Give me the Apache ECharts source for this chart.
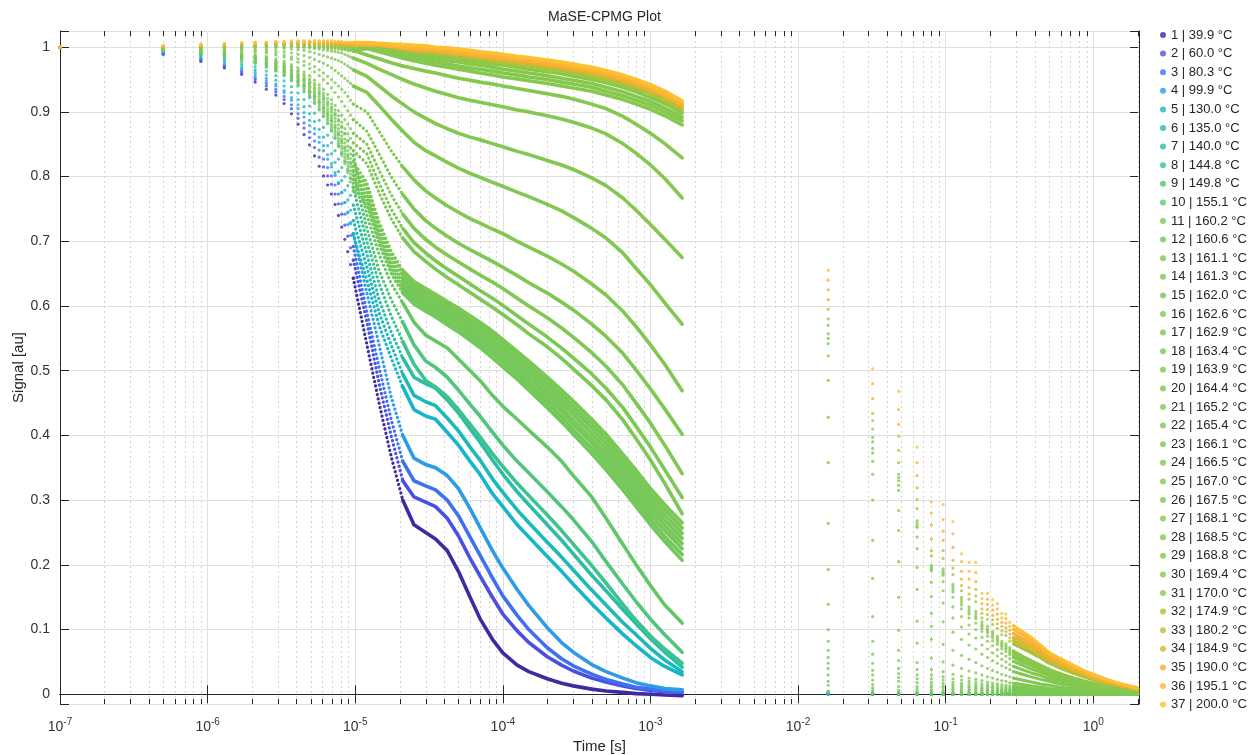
<!DOCTYPE html>
<html><head><meta charset="utf-8">
<script src="https://cdn.jsdelivr.net/npm/echarts@6.0.0/dist/echarts.min.js"></script>
<style>html,body{margin:0;padding:0;background:#fff}#c{width:1258px;height:755px}</style>
</head><body><div id="c"></div>
<script>
// ---------------- DATA ----------------
const TEMPS = [39.9,60.0,80.3,99.9,130.0,135.0,140.0,144.8,149.8,155.1,160.2,160.6,161.1,161.3,162.0,162.6,162.9,163.4,163.9,164.4,165.2,165.4,166.1,166.5,167.0,167.5,168.1,168.5,168.8,169.4,170.0,174.9,180.2,184.9,190.0,195.1,200.0];
const X_TICK_EXP = [-7,-6,-5,-4,-3,-2,-1,0];
// early echo times (microseconds)
const TE_US = [0.1,0.5,0.9,1.3,1.7,2.1,2.5,2.9,3.3,3.7,4.1,4.5,4.9,5.3,5.7,6.1,6.5,6.9,7.3,7.7,8.1,8.5,8.9,9.3,9.7];
// later FID times (s)
const TL = [1.2e-5,1.45e-5,1.75e-5,2.1e-5,2.5e-5,3e-5,3.5e-5,4.2e-5,5e-5,6e-5,7e-5,8.5e-5,1e-4,1.25e-4,1.5e-4,2e-4,2.5e-4,3e-4,4e-4,5e-4,6.5e-4,8e-4,1e-3,1.25e-3,1.64e-3];
// CPMG echo columns (s)
const TC = [0.016,0.032,0.048,0.064,0.080,0.096,0.112,0.128,0.144,0.160,0.176,0.192,0.208,0.224,0.240,0.256,0.272,0.288];
// CPMG tail times (s)
const TR = [0.33,0.38,0.44,0.5,0.6,0.72,0.86,1.0,1.2,1.45,1.7,2.0];

const E01=[1,0.989,0.978,0.968,0.958,0.946,0.935,0.926,0.913,0.897,0.881,0.865,0.849,0.832,0.816,0.801,0.787,0.773,0.757,0.740,0.722,0.703,0.684,0.664,0.643];
const E02=[1,0.990,0.980,0.970,0.961,0.950,0.940,0.931,0.919,0.905,0.890,0.875,0.860,0.845,0.830,0.815,0.801,0.788,0.773,0.758,0.742,0.725,0.708,0.690,0.671];
const E03=[1,0.991,0.981,0.972,0.963,0.953,0.944,0.935,0.924,0.911,0.897,0.883,0.869,0.855,0.841,0.827,0.814,0.801,0.787,0.773,0.758,0.742,0.726,0.709,0.692];
const E04=[1,0.992,0.983,0.974,0.966,0.957,0.948,0.940,0.930,0.918,0.905,0.892,0.879,0.866,0.853,0.840,0.827,0.815,0.802,0.789,0.775,0.760,0.745,0.729,0.712];
const E05=[1,0.993,0.985,0.977,0.969,0.961,0.952,0.943,0.933,0.922,0.911,0.899,0.887,0.874,0.861,0.848,0.834,0.820,0.806,0.791,0.776,0.760,0.744,0.727,0.710];
const E06=[1,0.994,0.987,0.980,0.973,0.965,0.957,0.949,0.940,0.930,0.919,0.908,0.897,0.885,0.873,0.861,0.848,0.835,0.822,0.808,0.794,0.779,0.764,0.748,0.732];
const E07=[1,0.995,0.989,0.983,0.977,0.970,0.963,0.956,0.948,0.939,0.929,0.919,0.909,0.898,0.887,0.876,0.864,0.852,0.840,0.827,0.814,0.800,0.786,0.771,0.756];
const E08=[1,0.996,0.991,0.986,0.981,0.975,0.969,0.963,0.956,0.948,0.940,0.931,0.922,0.913,0.903,0.893,0.882,0.871,0.860,0.848,0.836,0.823,0.810,0.797,0.783];
const E09=[1,0.997,0.993,0.989,0.984,0.979,0.974,0.968,0.962,0.955,0.948,0.940,0.932,0.924,0.915,0.906,0.897,0.887,0.877,0.866,0.855,0.844,0.832,0.820,0.808];
const E10=[1,0.998,0.995,0.992,0.988,0.984,0.980,0.975,0.970,0.964,0.958,0.951,0.944,0.937,0.929,0.921,0.913,0.904,0.895,0.886,0.876,0.866,0.855,0.844,0.833];
const E11=[1,0.995,0.990,0.986,0.981,0.976,0.970,0.964,0.957,0.950,0.942,0.934,0.925,0.915,0.905,0.894,0.883,0.871,0.859,0.846,0.833,0.820,0.806,0.792,0.778];
const E12=[1,0.995,0.991,0.987,0.982,0.977,0.972,0.966,0.959,0.952,0.944,0.936,0.927,0.918,0.908,0.898,0.887,0.875,0.863,0.851,0.838,0.825,0.812,0.798,0.784];
const E13=[1,0.995,0.991,0.987,0.983,0.978,0.973,0.967,0.961,0.954,0.947,0.939,0.930,0.921,0.911,0.901,0.890,0.879,0.867,0.855,0.843,0.830,0.817,0.804,0.790];
const E14=[1,0.996,0.992,0.988,0.984,0.980,0.975,0.969,0.963,0.956,0.949,0.941,0.932,0.923,0.914,0.904,0.893,0.882,0.871,0.859,0.847,0.835,0.822,0.809,0.796];
const E15=[1,0.996,0.992,0.989,0.985,0.981,0.976,0.970,0.964,0.958,0.951,0.943,0.935,0.926,0.917,0.907,0.897,0.886,0.875,0.864,0.852,0.840,0.828,0.815,0.802];
const E16=[1,0.996,0.993,0.990,0.986,0.982,0.977,0.972,0.966,0.960,0.953,0.946,0.938,0.929,0.920,0.911,0.901,0.891,0.880,0.869,0.858,0.846,0.834,0.822,0.809];
const E17=[1,0.996,0.993,0.990,0.987,0.983,0.978,0.973,0.968,0.962,0.955,0.948,0.940,0.932,0.924,0.915,0.905,0.895,0.885,0.874,0.863,0.852,0.840,0.828,0.816];
const E18=[1,0.997,0.994,0.991,0.988,0.984,0.980,0.975,0.970,0.964,0.958,0.951,0.944,0.936,0.928,0.919,0.910,0.900,0.890,0.880,0.869,0.858,0.847,0.835,0.823];
const E19=[1,0.997,0.995,0.992,0.989,0.986,0.982,0.978,0.973,0.968,0.962,0.955,0.948,0.941,0.933,0.925,0.916,0.907,0.898,0.888,0.878,0.867,0.856,0.845,0.840];
const E20=[1,0.997,0.995,0.993,0.990,0.987,0.983,0.979,0.975,0.970,0.964,0.958,0.951,0.944,0.937,0.929,0.921,0.912,0.903,0.894,0.884,0.874,0.866,0.859,0.852];
const E21=[1,0.998,0.996,0.994,0.992,0.989,0.986,0.982,0.978,0.973,0.968,0.962,0.956,0.949,0.942,0.935,0.927,0.919,0.910,0.902,0.895,0.888,0.881,0.874,0.867];
const E22=[1,0.998,0.997,0.996,0.995,0.993,0.991,0.988,0.985,0.981,0.977,0.972,0.967,0.962,0.956,0.950,0.944,0.937,0.930,0.923,0.916,0.909,0.902,0.895,0.888];
const E23=[1,0.999,0.998,0.997,0.996,0.995,0.993,0.991,0.988,0.985,0.982,0.978,0.974,0.970,0.965,0.960,0.955,0.950,0.945,0.940,0.935,0.930,0.924,0.918,0.912];
const E24=[1,0.999,0.999,0.999,0.998,0.997,0.996,0.995,0.993,0.991,0.989,0.987,0.984,0.981,0.978,0.975,0.972,0.968,0.964,0.960,0.956,0.952,0.948,0.944,0.940];
const E25=[1,0.999,1.000,1.000,1.000,1.000,0.999,0.999,0.998,0.997,0.996,0.995,0.993,0.991,0.989,0.987,0.985,0.983,0.981,0.979,0.977,0.974,0.971,0.968,0.965];
const E26=[1,1.000,1.001,1.001,1.002,1.002,1.002,1.002,1.001,1.001,1.000,1.000,0.999,0.998,0.997,0.996,0.995,0.994,0.993,0.992,0.991,0.989,0.987,0.985,0.983];
const E27=[1,1.000,1.001,1.002,1.003,1.003,1.004,1.004,1.004,1.004,1.004,1.003,1.003,1.003,1.002,1.002,1.001,1.001,1.000,1.000,0.999,0.998,0.997,0.996,0.995];
const E28=[1,0.997,0.999,1.000,1.000,1.001,1.001,1.001,1.001,1.001,1.000,1.000,1.000,0.999,0.999,0.999,0.998,0.998,0.997,0.997,0.996,0.996,0.995,0.995,0.994];
const E29=[1,0.998,1.000,1.001,1.002,1.002,1.002,1.002,1.002,1.002,1.002,1.002,1.002,1.001,1.001,1.001,1.001,1.000,1.000,1.000,0.999,0.999,0.999,0.998,0.998];
const E30=[1,0.999,1.001,1.002,1.003,1.003,1.004,1.004,1.004,1.004,1.004,1.004,1.004,1.004,1.004,1.003,1.003,1.003,1.003,1.003,1.002,1.002,1.002,1.001,1.001];
const E31=[1,1.000,1.002,1.003,1.004,1.005,1.005,1.006,1.006,1.006,1.006,1.006,1.006,1.006,1.006,1.006,1.006,1.006,1.006,1.006,1.005,1.005,1.005,1.004,1.004];
const E32=[1,1.000,1.001,1.002,1.003,1.003,1.004,1.004,1.004,1.004,1.004,1.004,1.004,1.004,1.003,1.003,1.003,1.003,1.003,1.002,1.002,1.002,1.002,1.001,1.001];
const E33=[1,1.001,1.002,1.003,1.004,1.004,1.005,1.005,1.005,1.005,1.005,1.005,1.005,1.005,1.005,1.004,1.004,1.004,1.004,1.004,1.003,1.003,1.003,1.003,1.002];
const E34=[1,1.002,1.003,1.005,1.006,1.007,1.007,1.008,1.008,1.008,1.009,1.009,1.009,1.009,1.009,1.009,1.008,1.008,1.008,1.008,1.007,1.007,1.007,1.006,1.006];
const E35=[1,1.001,1.003,1.004,1.005,1.005,1.006,1.006,1.006,1.006,1.006,1.006,1.006,1.006,1.006,1.006,1.006,1.006,1.005,1.005,1.005,1.005,1.004,1.004,1.004];
const E36=[1,1.002,1.004,1.005,1.006,1.006,1.007,1.007,1.008,1.008,1.008,1.008,1.008,1.008,1.008,1.008,1.008,1.007,1.007,1.007,1.007,1.006,1.006,1.006,1.005];
const E37=[1,1.003,1.005,1.006,1.007,1.008,1.008,1.009,1.009,1.010,1.010,1.010,1.010,1.010,1.010,1.010,1.010,1.010,1.009,1.009,1.009,1.008,1.008,1.008,1.007];

const L01=[0.540,0.450,0.368,0.300,0.262,0.250,0.240,0.222,0.190,0.150,0.117,0.085,0.064,0.045,0.035,0.024,0.017,0.013,0.008,0.005,0.003,0.001,0.000,-0.001,-0.002];
const L02=[0.575,0.480,0.400,0.330,0.305,0.297,0.290,0.272,0.245,0.210,0.183,0.150,0.124,0.098,0.080,0.058,0.045,0.036,0.025,0.019,0.013,0.009,0.006,0.004,0.003];
const L03=[0.590,0.505,0.425,0.360,0.330,0.322,0.316,0.300,0.276,0.243,0.215,0.180,0.152,0.122,0.100,0.072,0.055,0.044,0.031,0.023,0.016,0.011,0.008,0.006,0.004];
const L04=[0.620,0.540,0.460,0.400,0.365,0.355,0.350,0.338,0.318,0.287,0.258,0.222,0.195,0.162,0.137,0.103,0.080,0.065,0.046,0.035,0.025,0.018,0.013,0.009,0.007];
const L05=[0.640,0.570,0.520,0.475,0.440,0.430,0.425,0.405,0.385,0.360,0.340,0.310,0.290,0.262,0.243,0.213,0.190,0.170,0.140,0.118,0.093,0.075,0.057,0.043,0.030];
const L06=[0.660,0.590,0.540,0.495,0.462,0.452,0.446,0.427,0.407,0.382,0.362,0.333,0.312,0.285,0.265,0.235,0.212,0.192,0.161,0.138,0.111,0.092,0.071,0.053,0.035];
const L07=[0.680,0.610,0.560,0.520,0.490,0.480,0.473,0.455,0.435,0.410,0.390,0.362,0.340,0.313,0.293,0.262,0.238,0.217,0.184,0.160,0.131,0.109,0.086,0.065,0.042];
const L08=[0.700,0.635,0.585,0.545,0.510,0.485,0.475,0.460,0.440,0.417,0.398,0.372,0.352,0.326,0.307,0.277,0.253,0.232,0.199,0.172,0.139,0.114,0.090,0.070,0.048];
const L09=[0.720,0.655,0.610,0.575,0.540,0.515,0.505,0.490,0.470,0.448,0.430,0.405,0.385,0.360,0.342,0.313,0.290,0.270,0.236,0.205,0.170,0.143,0.116,0.092,0.065];
const L10=[0.740,0.680,0.635,0.605,0.575,0.555,0.546,0.535,0.518,0.500,0.485,0.462,0.445,0.425,0.408,0.382,0.360,0.338,0.305,0.272,0.232,0.200,0.168,0.138,0.110];
const L11=[0.755,0.695,0.650,0.620,0.603,0.592,0.583,0.571,0.560,0.547,0.536,0.520,0.506,0.487,0.470,0.443,0.421,0.402,0.372,0.347,0.316,0.290,0.262,0.236,0.207];
const L12=[0.760,0.700,0.655,0.625,0.608,0.597,0.588,0.576,0.566,0.553,0.542,0.527,0.513,0.494,0.477,0.450,0.428,0.409,0.380,0.355,0.324,0.298,0.270,0.244,0.216];
const L13=[0.765,0.705,0.660,0.630,0.613,0.602,0.593,0.582,0.572,0.559,0.548,0.533,0.519,0.500,0.483,0.457,0.436,0.417,0.388,0.363,0.332,0.306,0.278,0.253,0.225];
const L14=[0.770,0.710,0.665,0.635,0.618,0.607,0.598,0.587,0.577,0.565,0.554,0.539,0.525,0.507,0.490,0.464,0.443,0.424,0.395,0.371,0.340,0.314,0.286,0.261,0.233];
const L15=[0.775,0.715,0.670,0.640,0.623,0.612,0.603,0.592,0.582,0.570,0.560,0.545,0.531,0.513,0.497,0.471,0.450,0.432,0.403,0.379,0.348,0.322,0.294,0.269,0.241];
const L16=[0.780,0.720,0.675,0.645,0.628,0.617,0.608,0.597,0.587,0.575,0.565,0.550,0.537,0.519,0.503,0.478,0.457,0.439,0.411,0.387,0.356,0.330,0.302,0.277,0.249];
const L17=[0.785,0.725,0.680,0.650,0.633,0.622,0.613,0.602,0.592,0.580,0.570,0.556,0.543,0.525,0.509,0.484,0.464,0.446,0.418,0.395,0.364,0.338,0.310,0.285,0.257];
const L18=[0.790,0.730,0.685,0.655,0.638,0.627,0.618,0.607,0.597,0.585,0.575,0.561,0.548,0.530,0.515,0.490,0.470,0.453,0.425,0.402,0.371,0.346,0.318,0.293,0.265];
const L19=[0.820,0.775,0.735,0.705,0.684,0.669,0.657,0.644,0.633,0.621,0.611,0.598,0.587,0.571,0.557,0.537,0.519,0.503,0.477,0.455,0.424,0.395,0.362,0.326,0.279];
const L20=[0.835,0.790,0.750,0.720,0.698,0.682,0.670,0.657,0.646,0.634,0.624,0.612,0.601,0.585,0.572,0.552,0.535,0.520,0.495,0.473,0.443,0.414,0.382,0.347,0.304];
const L21=[0.850,0.810,0.772,0.742,0.720,0.703,0.691,0.679,0.668,0.657,0.648,0.637,0.627,0.612,0.600,0.582,0.566,0.552,0.528,0.507,0.478,0.450,0.419,0.385,0.341];
const L22=[0.870,0.835,0.800,0.772,0.750,0.732,0.720,0.708,0.697,0.687,0.679,0.669,0.660,0.647,0.636,0.620,0.606,0.594,0.572,0.553,0.527,0.501,0.472,0.441,0.402];
const L23=[0.900,0.870,0.840,0.815,0.795,0.778,0.767,0.755,0.745,0.735,0.728,0.719,0.712,0.700,0.691,0.677,0.665,0.654,0.634,0.617,0.592,0.568,0.540,0.510,0.469];
const L24=[0.930,0.910,0.889,0.870,0.853,0.840,0.832,0.822,0.813,0.805,0.799,0.791,0.785,0.776,0.769,0.757,0.747,0.737,0.720,0.705,0.682,0.658,0.633,0.605,0.572];
const L25=[0.955,0.940,0.925,0.912,0.900,0.890,0.882,0.874,0.867,0.861,0.857,0.851,0.846,0.839,0.834,0.825,0.818,0.811,0.798,0.786,0.767,0.748,0.726,0.703,0.675];
const L26=[0.975,0.966,0.958,0.950,0.943,0.937,0.932,0.927,0.922,0.918,0.915,0.911,0.908,0.903,0.900,0.894,0.889,0.884,0.875,0.866,0.851,0.836,0.818,0.797,0.767];
const L27=[0.988,0.982,0.976,0.971,0.967,0.963,0.960,0.956,0.952,0.949,0.946,0.943,0.940,0.936,0.933,0.928,0.924,0.920,0.912,0.905,0.893,0.881,0.867,0.851,0.829];
const L28=[0.998,0.993,0.988,0.983,0.979,0.975,0.972,0.969,0.966,0.963,0.960,0.957,0.954,0.951,0.948,0.944,0.940,0.937,0.932,0.926,0.919,0.912,0.904,0.894,0.880];
const L29=[1.000,0.996,0.991,0.987,0.983,0.980,0.977,0.974,0.971,0.968,0.966,0.963,0.960,0.957,0.954,0.950,0.946,0.943,0.938,0.932,0.925,0.918,0.910,0.900,0.886];
const L30=[1.002,0.998,0.994,0.990,0.987,0.984,0.982,0.979,0.977,0.974,0.972,0.969,0.966,0.963,0.960,0.956,0.952,0.949,0.944,0.938,0.931,0.924,0.916,0.906,0.892];
const L31=[1.003,1.000,0.997,0.994,0.991,0.988,0.986,0.984,0.981,0.979,0.977,0.974,0.972,0.969,0.966,0.962,0.959,0.955,0.950,0.945,0.938,0.931,0.922,0.913,0.898];
const L32=[1.004,1.003,1.000,0.996,0.993,0.992,0.990,0.988,0.986,0.983,0.981,0.978,0.976,0.973,0.971,0.967,0.964,0.960,0.955,0.950,0.943,0.936,0.928,0.918,0.902];
const L33=[1.005,1.004,1.002,0.998,0.995,0.994,0.993,0.991,0.989,0.986,0.984,0.981,0.979,0.976,0.974,0.970,0.967,0.963,0.958,0.953,0.946,0.939,0.931,0.921,0.906];
const L34=[1.006,1.005,1.003,1.000,0.998,0.997,0.996,0.994,0.992,0.990,0.988,0.985,0.983,0.980,0.978,0.974,0.971,0.968,0.963,0.958,0.951,0.944,0.936,0.926,0.911];
const L35=[1.004,1.003,1.001,0.999,0.996,0.995,0.994,0.992,0.990,0.988,0.986,0.984,0.982,0.979,0.977,0.973,0.970,0.967,0.962,0.957,0.950,0.943,0.935,0.925,0.910];
const L36=[1.005,1.004,1.002,1.000,0.999,0.998,0.997,0.995,0.993,0.991,0.989,0.987,0.985,0.982,0.980,0.976,0.973,0.970,0.965,0.960,0.953,0.946,0.938,0.928,0.913];
const L37=[1.007,1.006,1.005,1.004,1.003,1.002,1.000,0.999,0.997,0.995,0.993,0.991,0.989,0.986,0.984,0.980,0.977,0.974,0.969,0.964,0.957,0.950,0.942,0.932,0.917];

const C01=[0.001,0.000,0.001,0.000,0.000,0.001,0.000,0.000,0.000,0.001,0.000,0.000,0.000,0.000,0.001,0.000,0.000,0.000];
const C02=[0.000,0.001,0.000,0.000,0.001,0.000,0.000,0.001,0.000,0.000,0.000,0.001,0.000,0.000,0.000,0.000,0.001,0.000];
const C03=[0.001,0.000,0.000,0.001,0.000,0.000,0.001,0.000,0.000,0.000,0.001,0.000,0.000,0.001,0.000,0.000,0.000,0.000];
const C04=[0.001,0.001,0.000,0.000,0.000,0.001,0.000,0.000,0.001,0.000,0.000,0.000,0.001,0.000,0.000,0.001,0.000,0.000];
const C05=[0.002,0.001,0.001,0.000,0.001,0.000,0.000,0.001,0.000,0.000,0.001,0.000,0.000,0.000,0.000,0.001,0.000,0.000];
const C06=[0.002,0.001,0.001,0.001,0.000,0.000,0.001,0.000,0.000,0.001,0.000,0.000,0.000,0.001,0.000,0.000,0.000,0.000];
const C07=[0.002,0.001,0.001,0.001,0.001,0.000,0.000,0.000,0.001,0.000,0.000,0.000,0.001,0.000,0.000,0.000,0.000,0.000];
const C08=[0.003,0.001,0.001,0.001,0.001,0.001,0.000,0.000,0.000,0.001,0.000,0.000,0.000,0.000,0.000,0.000,0.000,0.000];
const C09=[0.003,0.002,0.001,0.001,0.001,0.001,0.001,0.000,0.000,0.000,0.000,0.001,0.000,0.000,0.000,0.000,0.000,0.000];
const C10=[0.004,0.002,0.002,0.001,0.001,0.001,0.001,0.001,0.000,0.000,0.000,0.000,0.000,0.000,0.000,0.000,0.000,0.000];
const C11=[0.005,0.001,0.001,0.001,0.001,0.000,0.000,0.000,0.000,0.000,0.000,0.000,0.000,0.000,0.000,0.000,0.000,0.000];
const C12=[0.014,0.003,0.002,0.001,0.001,0.001,0.000,0.000,0.000,0.000,0.000,0.000,0.000,0.000,0.000,0.000,0.000,0.000];
const C13=[0.020,0.006,0.003,0.002,0.002,0.001,0.001,0.001,0.001,0.001,0.001,0.000,0.000,0.000,0.000,0.000,0.000,0.000];
const C14=[0.030,0.010,0.006,0.004,0.004,0.003,0.003,0.003,0.003,0.002,0.002,0.002,0.002,0.002,0.002,0.001,0.001,0.001];
const C15=[0.040,0.015,0.012,0.008,0.007,0.006,0.006,0.005,0.005,0.004,0.004,0.004,0.003,0.003,0.003,0.003,0.003,0.002];
const C16=[0.048,0.022,0.020,0.012,0.011,0.010,0.009,0.008,0.007,0.007,0.006,0.006,0.005,0.005,0.004,0.004,0.004,0.004];
const C17=[0.057,0.030,0.026,0.018,0.015,0.013,0.012,0.011,0.010,0.009,0.008,0.007,0.007,0.006,0.006,0.005,0.005,0.005];
const C18=[0.068,0.037,0.032,0.024,0.019,0.017,0.015,0.014,0.012,0.011,0.010,0.009,0.009,0.008,0.007,0.007,0.006,0.006];
const C19=[0.082,0.048,0.040,0.030,0.024,0.022,0.019,0.017,0.016,0.014,0.013,0.012,0.011,0.010,0.009,0.009,0.008,0.008];
const C20=[0.100,0.062,0.052,0.038,0.030,0.027,0.024,0.022,0.020,0.018,0.016,0.015,0.014,0.013,0.012,0.011,0.010,0.009];
const C21=[0.139,0.082,0.068,0.049,0.038,0.035,0.031,0.028,0.025,0.023,0.021,0.019,0.017,0.016,0.015,0.014,0.013,0.012];
const C22=[0.193,0.120,0.099,0.079,0.056,0.050,0.045,0.040,0.036,0.033,0.030,0.027,0.025,0.023,0.021,0.020,0.018,0.017];
const C23=[0.264,0.179,0.150,0.113,0.085,0.077,0.068,0.060,0.054,0.049,0.044,0.040,0.037,0.034,0.031,0.029,0.027,0.025];
const C24=[0.358,0.238,0.205,0.162,0.105,0.112,0.096,0.085,0.076,0.070,0.062,0.057,0.052,0.048,0.044,0.041,0.038,0.035];
const C25=[0.428,0.300,0.253,0.196,0.125,0.141,0.118,0.104,0.093,0.087,0.076,0.070,0.064,0.059,0.054,0.050,0.046,0.043];
const C26=[0.485,0.340,0.284,0.225,0.151,0.160,0.135,0.120,0.107,0.100,0.088,0.082,0.075,0.069,0.063,0.059,0.055,0.051];
const C27=[0.523,0.360,0.315,0.243,0.173,0.174,0.150,0.132,0.118,0.110,0.097,0.090,0.083,0.077,0.070,0.066,0.061,0.057];
const C28=[0.542,0.373,0.323,0.258,0.191,0.184,0.158,0.138,0.124,0.117,0.102,0.095,0.088,0.081,0.074,0.070,0.064,0.060];
const C29=[0.550,0.380,0.330,0.260,0.193,0.187,0.162,0.142,0.127,0.120,0.105,0.098,0.091,0.084,0.076,0.072,0.066,0.062];
const C30=[0.557,0.390,0.335,0.264,0.196,0.190,0.166,0.146,0.131,0.124,0.108,0.101,0.094,0.087,0.079,0.075,0.069,0.064];
const C31=[0.570,0.397,0.340,0.268,0.199,0.194,0.170,0.150,0.135,0.128,0.112,0.105,0.097,0.090,0.082,0.078,0.072,0.067];
const C32=[0.580,0.410,0.358,0.287,0.214,0.210,0.185,0.160,0.147,0.143,0.118,0.116,0.108,0.102,0.092,0.091,0.082,0.078];
const C33=[0.595,0.423,0.377,0.301,0.222,0.222,0.195,0.168,0.155,0.152,0.125,0.123,0.115,0.109,0.098,0.097,0.087,0.083];
const C34=[0.610,0.434,0.399,0.319,0.240,0.238,0.207,0.178,0.165,0.162,0.132,0.131,0.122,0.116,0.105,0.103,0.093,0.088];
const C35=[0.625,0.457,0.417,0.338,0.262,0.252,0.227,0.190,0.178,0.174,0.140,0.139,0.130,0.124,0.111,0.110,0.099,0.094];
const C36=[0.640,0.480,0.440,0.358,0.280,0.270,0.248,0.205,0.190,0.188,0.148,0.147,0.138,0.132,0.118,0.117,0.105,0.100];
const C37=[0.655,0.503,0.468,0.382,0.297,0.293,0.267,0.217,0.204,0.204,0.156,0.156,0.146,0.140,0.125,0.124,0.111,0.106];

const R01=[0,0,0,0,0,0,0,0,0,0,0,0];
const R02=[0,0,0,0,0,0,0,0,0,0,0,0];
const R03=[0,0,0,0,0,0,0,0,0,0,0,0];
const R04=[0,0,0,0,0,0,0,0,0,0,0,0];
const R05=[0,0,0,0,0,0,0,0,0,0,0,0];
const R06=[0,0,0,0,0,0,0,0,0,0,0,0];
const R07=[0,0,0,0,0,0,0,0,0,0,0,0];
const R08=[0,0,0,0,0,0,0,0,0,0,0,0];
const R09=[0,0,0,0,0,0,0,0,0,0,0,0];
const R10=[0,0,0,0,0,0,0,0,0,0,0,0];
const R11=[0,0,0,0,0,0,0,0,0,0,0,0];
const R12=[0,0,0,0,0,0,0,0,0,0,0,0];
const R13=[0,0,0,0,0,0,0,0,0,0,0,0];
const R14=[0.001,0.001,0.001,0.001,0,0,0,0,0,0,0,0];
const R15=[0.002,0.002,0.002,0.001,0.001,0.001,0.001,0,0,0,0,0];
const R16=[0.003,0.003,0.002,0.002,0.002,0.001,0.001,0.001,0,0,0,0];
const R17=[0.004,0.004,0.003,0.003,0.002,0.002,0.001,0.001,0.001,0,0,0];
const R18=[0.005,0.005,0.004,0.003,0.003,0.002,0.002,0.001,0.001,0.001,0,0];
const R19=[0.007,0.006,0.005,0.004,0.004,0.003,0.002,0.002,0.001,0.001,0.001,0];
const R20=[0.008,0.007,0.006,0.005,0.004,0.004,0.003,0.002,0.002,0.001,0.001,0.001];
const R21=[0.011,0.009,0.008,0.007,0.006,0.005,0.004,0.003,0.002,0.002,0.001,0.001];
const R22=[0.015,0.013,0.011,0.009,0.008,0.006,0.005,0.004,0.003,0.002,0.002,0.001];
const R23=[0.022,0.019,0.016,0.014,0.011,0.009,0.007,0.006,0.004,0.003,0.002,0.002];
const R24=[0.031,0.027,0.023,0.020,0.016,0.013,0.010,0.008,0.006,0.005,0.003,0.002];
const R25=[0.038,0.033,0.029,0.024,0.020,0.016,0.013,0.010,0.008,0.006,0.004,0.003];
const R26=[0.045,0.039,0.034,0.029,0.023,0.019,0.015,0.012,0.009,0.007,0.005,0.004];
const R27=[0.050,0.044,0.038,0.032,0.026,0.021,0.017,0.014,0.011,0.008,0.006,0.004];
const R28=[0.053,0.046,0.040,0.034,0.028,0.023,0.018,0.015,0.011,0.008,0.006,0.005];
const R29=[0.055,0.048,0.041,0.036,0.030,0.024,0.019,0.015,0.012,0.009,0.007,0.005];
const R30=[0.057,0.050,0.043,0.037,0.031,0.025,0.020,0.016,0.012,0.009,0.007,0.005];
const R31=[0.059,0.052,0.045,0.039,0.032,0.026,0.021,0.017,0.013,0.010,0.008,0.006];
const R32=[0.071,0.064,0.056,0.048,0.040,0.033,0.027,0.022,0.017,0.013,0.010,0.007];
const R33=[0.076,0.068,0.060,0.051,0.043,0.036,0.029,0.024,0.018,0.014,0.011,0.008];
const R34=[0.081,0.073,0.064,0.055,0.046,0.038,0.031,0.025,0.020,0.015,0.011,0.008];
const R35=[0.086,0.078,0.068,0.058,0.049,0.041,0.033,0.027,0.021,0.016,0.012,0.009];
const R36=[0.092,0.083,0.072,0.062,0.052,0.043,0.035,0.029,0.022,0.017,0.013,0.009];
const R37=[0.097,0.088,0.076,0.065,0.055,0.046,0.037,0.031,0.024,0.018,0.014,0.010];

// ---------------- STYLE / ASSEMBLY ----------------
const EARLY=[E01,E02,E03,E04,E05,E06,E07,E08,E09,E10,E11,E12,E13,E14,E15,E16,E17,E18,E19,E20,E21,E22,E23,E24,E25,E26,E27,E28,E29,E30,E31,E32,E33,E34,E35,E36,E37];
const LATE=[L01,L02,L03,L04,L05,L06,L07,L08,L09,L10,L11,L12,L13,L14,L15,L16,L17,L18,L19,L20,L21,L22,L23,L24,L25,L26,L27,L28,L29,L30,L31,L32,L33,L34,L35,L36,L37];
const COLS=[C01,C02,C03,C04,C05,C06,C07,C08,C09,C10,C11,C12,C13,C14,C15,C16,C17,C18,C19,C20,C21,C22,C23,C24,C25,C26,C27,C28,C29,C30,C31,C32,C33,C34,C35,C36,C37];
const TAIL=[R01,R02,R03,R04,R05,R06,R07,R08,R09,R10,R11,R12,R13,R14,R15,R16,R17,R18,R19,R20,R21,R22,R23,R24,R25,R26,R27,R28,R29,R30,R31,R32,R33,R34,R35,R36,R37];

const STOPS=[[0,'#3c2c9f'],[0.125,'#4b4fe2'],[0.25,'#3e70f2'],[0.375,'#2d9be6'],[0.562,'#16b5c9'],[0.593,'#1bb9ba'],[0.624,'#2bbea6'],[0.654,'#3cc291'],[0.685,'#4fc57c'],[0.718,'#63c768'],[0.75,'#73c85b'],[0.812,'#88c84b'],[0.843,'#a6c33c'],[0.876,'#c6bc30'],[0.905,'#dbb52d'],[0.937,'#f6ad36'],[0.968,'#fab338'],[1,'#fcc22e']];
function hex2rgb(h){return [parseInt(h.substr(1,2),16),parseInt(h.substr(3,2),16),parseInt(h.substr(5,2),16)];}
function cmap(u){
  for(let i=0;i<STOPS.length-1;i++){
    const a=STOPS[i],b=STOPS[i+1];
    if(u<=b[0]+1e-9){
      const f=(u-a[0])/(b[0]-a[0]);const ca=hex2rgb(a[1]),cb=hex2rgb(b[1]);
      const c=ca.map((v,k)=>Math.round(v+(cb[k]-v)*Math.max(0,Math.min(1,f))));
      return 'rgb('+c.join(',')+')';
    }
  }
  return STOPS[STOPS.length-1][1];
}
const tMin=TEMPS[0],tMax=TEMPS[TEMPS.length-1];
const NAMES=TEMPS.map((t,i)=>(i+1)+' | '+t.toFixed(1)+' \u00B0C');
const TE=TE_US.map(v=>v*1e-6);

const FONT='"Liberation Sans", Arial, Helvetica, sans-serif';
const AX='#262626';
const series=[];
// minor log grid + minor ticks (decoration placed through the axis scale)
const MINOR=[];
X_TICK_EXP.forEach(e=>{for(let m=2;m<=9;m++){const v=m*Math.pow(10,e);if(v<=2.04)MINOR.push([v,0.5]);}});
series.push({type:'custom',silent:true,z:1,data:MINOR,renderItem:function(params,api){
  const cs=params.coordSys;const x=Math.round(api.coord([api.value(0),0.5])[0])+0.5;
  const yb=cs.y+cs.height, yt=cs.y;
  return {type:'group',children:[
    {type:'line',shape:{x1:x,y1:yt,x2:x,y2:yb},style:{stroke:'#d4d4d4',lineWidth:1,lineDash:[2,3]}},
    {type:'line',shape:{x1:x,y1:yb,x2:x,y2:yb-5},style:{stroke:AX,lineWidth:1}},
    {type:'line',shape:{x1:x,y1:yt,x2:x,y2:yt+5},style:{stroke:AX,lineWidth:1}}
  ]};
}});

const SPLIT=4; // index in TL (2.1e-5) where the sampled points merge into a continuous trace
for(let i=0;i<TEMPS.length;i++){
  const col=cmap((TEMPS[i]-tMin)/(tMax-tMin));
  const name=NAMES[i];
  const e=EARLY[i],l=LATE[i],c=COLS[i],r=TAIL[i];
  const base={name:name,silent:true,z:2,itemStyle:{color:col}};
  series.push(Object.assign({type:'scatter',data:TE.map((t,k)=>[t,e[k]]),symbolSize:3.2},base));
  const pts=TL.map((t,k)=>[t,l[k]]);
  const segA=[[TE[TE.length-1],e[e.length-1]]].concat(pts.slice(0,SPLIT));
  const steep=(e[e.length-1]-l[SPLIT-1])>0.08;
  series.push(Object.assign({type:'line',data:segA,showSymbol:false,symbol:'none',
    lineStyle:steep?{width:3.2,color:col,type:[0.1,4.3],cap:'round'}:{width:3.6,color:col,cap:'round',join:'round'}},base));
  series.push(Object.assign({type:'line',data:pts.slice(SPLIT-1),showSymbol:false,symbol:'none',
    lineStyle:{width:3.6,color:col,cap:'round',join:'round'}},base));
  series.push(Object.assign({type:'scatter',data:TC.map((t,k)=>[t,c[k]]),symbolSize:3.2},base));
  const rd=[[TC[TC.length-1],c[c.length-1]]].concat(TR.map((t,k)=>[t,r[k]]));
  series.push(Object.assign({type:'line',data:rd,showSymbol:false,symbol:'none',
    lineStyle:{width:3,color:col,cap:'round',join:'round'}},base));
}

function xLabel(v){const e=Math.log10(v);const r=Math.round(e);if(Math.abs(e-r)>1e-6)return '';return '10{sup|'+r+'}';}
function yLabel(v){const r=Math.round(v*10);if(Math.abs(v*10-r)>1e-6)return '';return String(r/10);}

const option={
  animation:false,
  backgroundColor:'#fff',
  textStyle:{fontFamily:FONT},
  title:{text:'MaSE-CPMG Plot',left:599.5,textAlign:'center',top:5,textStyle:{fontFamily:FONT,fontSize:14,fontWeight:'normal',color:AX}},
  grid:{left:60,right:119,top:31,bottom:51,containLabel:false,outerBoundsMode:'none'},
  legend:{orient:'vertical',left:1155,top:23,itemWidth:6,itemHeight:6,itemGap:4.6,icon:'circle',
    textStyle:{fontFamily:FONT,fontSize:13,color:AX,lineHeight:14},data:NAMES.map(n=>({name:n,icon:'circle'})),selectedMode:false},
  xAxis:[
    {type:'log',logBase:10,min:1e-7,max:2.04,position:'bottom',
     name:'Time [s]',nameLocation:'middle',nameGap:35,nameMoveOverlap:false,nameTextStyle:{fontFamily:FONT,fontSize:15,color:AX},
     axisLine:{show:true,lineStyle:{color:AX,width:1}},
     axisTick:{show:true,inside:true,length:9,lineStyle:{color:AX}},
     axisLabel:{formatter:xLabel,fontFamily:FONT,fontSize:14,color:'#333',margin:13,
       rich:{sup:{fontFamily:FONT,fontSize:10,color:'#333',padding:[0,0,10,0]}}},
     splitLine:{show:true,lineStyle:{color:'#e0e0e0',width:1}},minorTick:{show:false},minorSplitLine:{show:false}},
    {type:'log',logBase:10,min:1e-7,max:2.04,position:'top',
     axisLine:{show:true,lineStyle:{color:AX,width:1}},
     axisTick:{show:true,inside:true,length:9,lineStyle:{color:AX}},
     axisLabel:{show:false},splitLine:{show:false}}
  ],
  yAxis:[
    {type:'value',min:-0.015,max:1.025,splitNumber:10,position:'left',
     name:'Signal [au]',nameLocation:'middle',nameGap:34,nameMoveOverlap:false,nameTextStyle:{fontFamily:FONT,fontSize:15,color:AX},
     axisLine:{show:true,lineStyle:{color:AX,width:1}},
     axisTick:{show:true,inside:true,length:9,lineStyle:{color:AX}},
     axisLabel:{formatter:yLabel,fontFamily:FONT,fontSize:14,color:'#333',margin:10},
     splitLine:{show:true,lineStyle:{color:'#e0e0e0',width:1}}},
    {type:'value',min:-0.015,max:1.025,splitNumber:10,position:'right',
     axisLine:{show:true,lineStyle:{color:AX,width:1}},
     axisTick:{show:true,inside:true,length:9,lineStyle:{color:AX}},
     axisLabel:{show:false},splitLine:{show:false}}
  ],
  series:series
};
const chart=echarts.init(document.getElementById('c'),null,{renderer:'canvas'});
chart.setOption(option);
</script></body></html>
